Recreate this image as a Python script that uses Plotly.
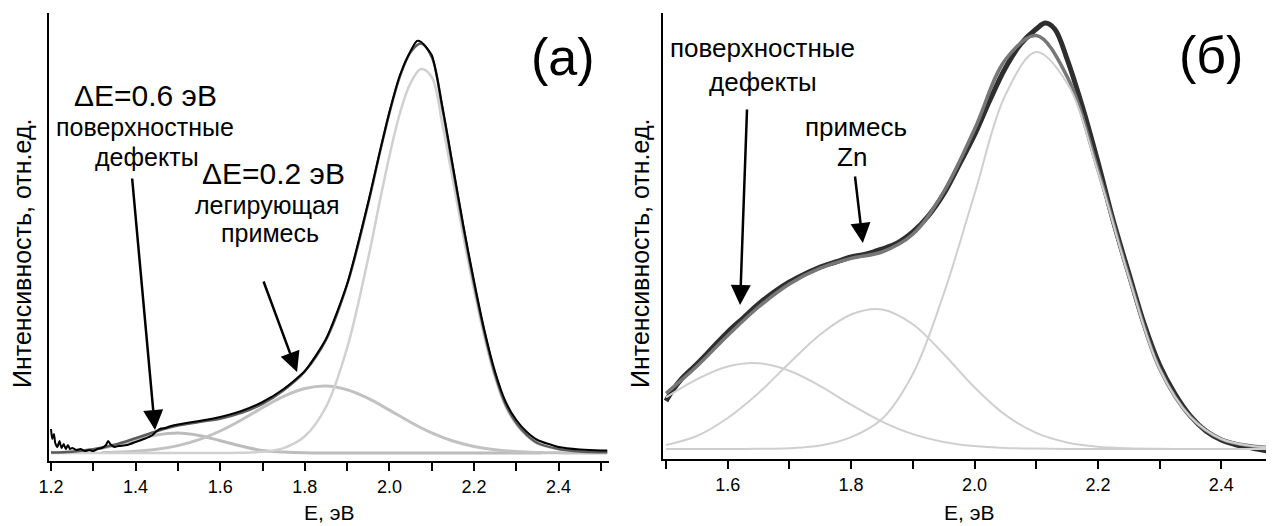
import plotly.graph_objects as go

# ---------------- panel (а) ----------------
E_a_noisy = [1.200, 1.203, 1.207, 1.210, 1.215, 1.220, 1.225, 1.230, 1.235, 1.240, 1.245, 1.250,
             1.260, 1.270, 1.280, 1.290, 1.300, 1.310, 1.320, 1.330, 1.335, 1.340, 1.350, 1.360,
             1.380, 1.400, 1.420, 1.440, 1.450, 1.460, 1.470, 1.480, 1.500, 1.520, 1.550, 1.600,
             1.650, 1.700, 1.750, 1.800, 1.850, 1.900, 1.950, 1.975, 2.000, 2.025, 2.050, 2.065,
             2.075, 2.100, 2.125, 2.150, 2.175, 2.200, 2.225, 2.250, 2.275, 2.300, 2.325, 2.350,
             2.400, 2.450, 2.500, 2.515]
data_a = [24, 14, 19, 10, 6, 12, 5, 9, 4, 8, 4, 5,
          3, 4, 2, 3, 2, 4, 5, 8, 12, 9, 6, 7,
          8, 11, 14, 18, 22, 24.5, 25, 26.5, 28.5, 30, 32, 36,
          42, 51, 64, 82, 114, 169, 251, 297, 341, 378, 402, 412,
          411, 398, 347, 287, 227, 172, 122, 81, 51, 33, 21, 13,
          6, 3.5, 2.5, 2.5]

E_a_fit = [1.20, 1.25, 1.30, 1.35, 1.40, 1.45, 1.50, 1.55, 1.60, 1.65, 1.70, 1.75, 1.80, 1.85,
           1.90, 1.95, 1.975, 2.00, 2.025, 2.05, 2.075, 2.10, 2.125, 2.15, 2.175, 2.20, 2.225,
           2.25, 2.275, 2.30, 2.325, 2.35, 2.40, 2.45, 2.50, 2.515]
fit_a = [0.4, 1.3, 3.7, 8.2, 14.7, 21.7, 27.4, 31, 34.3, 40.1, 49.1, 62.7, 81.5, 113,
         168.3, 249.6, 296, 339.9, 376.7, 400.8, 409.5, 396, 345, 285, 225, 169.5, 119.7,
         78.2, 48.2, 30, 18, 10, 4, 1.5, 0.8, 0.8]

E_a_c1 = [1.20, 1.25, 1.30, 1.35, 1.40, 1.45, 1.50, 1.55, 1.60, 1.65, 1.70, 1.75, 1.80, 1.85,
          1.90, 2.00, 2.10, 2.20, 2.30, 2.36]
c1_a = [0.4, 1.2, 3.4, 7.5, 13, 18, 20, 17.6, 12.3, 6.9, 2.5, 1.1, 0.3, 0,
        0, 0, 0, 0, 0, 0]

E_a_c2 = [1.32, 1.35, 1.40, 1.45, 1.50, 1.55, 1.60, 1.65, 1.70, 1.75, 1.80, 1.85, 1.90, 1.95,
          2.00, 2.05, 2.10, 2.15, 2.20, 2.25, 2.30, 2.35, 2.40, 2.45, 2.515]
c2_a = [0.4, 0.7, 1.7, 3.7, 7.4, 13.4, 22, 33, 45.4, 56.7, 64.5, 67, 63.3, 54.6,
        42.9, 30.8, 20.1, 12, 6.5, 3.2, 1.5, 0.6, 0.2, 0, 0]

E_a_c3 = [1.20, 1.40, 1.60, 1.65, 1.70, 1.75, 1.80, 1.85, 1.90, 1.95, 1.975, 2.00, 2.025, 2.05,
          2.075, 2.10, 2.125, 2.15, 2.175, 2.20, 2.225, 2.25, 2.275, 2.30, 2.325, 2.35, 2.40,
          2.45, 2.515]
c3_a = [0, 0, 0, 0.2, 1.2, 4.9, 16.7, 46, 105, 195, 247, 297, 340, 370,
        384, 376, 329, 273, 216, 163, 115, 75, 46, 28.5, 17, 9.4, 3.8,
        1.5, 0.8]

# ---------------- panel (б) ----------------
E_b_data = [1.500, 1.510, 1.525, 1.550, 1.575, 1.600, 1.625, 1.650, 1.675, 1.700, 1.725, 1.750,
            1.775, 1.800, 1.825, 1.850, 1.875, 1.900, 1.925, 1.950, 1.975, 2.000, 2.025, 2.050,
            2.075, 2.100, 2.115, 2.130, 2.150, 2.175, 2.200, 2.225, 2.250, 2.275, 2.300, 2.325,
            2.350, 2.375, 2.400, 2.425, 2.450, 2.475, 2.500]
data_b = [48, 58, 70, 85, 101, 117, 131, 145, 157, 167, 175, 182,
          187, 192, 195, 200, 206, 217, 233, 255, 284, 314, 349, 381,
          405, 420, 426, 420, 390, 342, 287, 228, 176, 125, 84, 55,
          33, 18, 9, 4, 1, -2, -3]

E_b = [1.50, 1.55, 1.60, 1.65, 1.70, 1.75, 1.80, 1.85, 1.90, 1.95, 2.00, 2.05, 2.10, 2.15,
       2.20, 2.25, 2.30, 2.35, 2.40, 2.45, 2.50]
fit_b = [55.7, 82.7, 113.5, 142, 165.1, 180.8, 190.6, 197, 214.7, 257.1, 319.7, 389.2, 413.5, 372.6,
         279.2, 172.7, 80.2, 32, 10, 3, 1]
c1_b = [51.7, 69.7, 82.5, 85.8, 78.3, 62.9, 44.3, 27.4, 14.9, 7.1, 3.0, 1.1, 0.4, 0.1,
        0, 0, 0, 0, 0, 0, 0]
c2_b = [4, 13, 31, 56, 86, 114.5, 134.5, 139.6, 124.8, 95, 61.7, 34.1, 16.1, 6.5,
        2.2, 0.7, 0.2, 0, 0, 0, 0]
c3_b = [0, 0, 0, 0.2, 0.8, 3.4, 11.8, 30, 75, 155, 255, 354, 397, 366,
        277, 172, 80, 32, 10, 3, 1]

tick_major_a = [1.2, 1.4, 1.6, 1.8, 2.0, 2.2, 2.4]
tick_minor_a = [1.3, 1.5, 1.7, 1.9, 2.1, 2.3, 2.5]
tick_major_b = [1.6, 1.8, 2.0, 2.2, 2.4]
tick_minor_b = [1.5, 1.7, 1.9, 2.1, 2.3]

FONT = "Liberation Sans, Arial, sans-serif"
PAGE_W, PAGE_H = 1274, 526
OFF = 8                      # page body margin of the html page
FW, FH = PAGE_W - OFF, PAGE_H - OFF

fig = go.Figure()

# panel (а) traces
for ex, ey, col, wd in [(E_a_c1, c1_a, "#bcbcbc", 3), (E_a_c2, c2_a, "#c2c2c2", 3),
                        (E_a_c3, c3_a, "#d0d0d0", 2.5)]:
    fig.add_trace(go.Scatter(x=ex, y=ey, mode="lines", line=dict(color=col, width=wd, shape="spline"),
                             xaxis="x", yaxis="y", hoverinfo="skip"))
fig.add_trace(go.Scatter(x=E_a_fit, y=fit_a, mode="lines", line=dict(color="#5c5c5c", width=2.5, shape="spline"),
                         xaxis="x", yaxis="y"))
fig.add_trace(go.Scatter(x=E_a_noisy, y=data_a, mode="lines", line=dict(color="#000000", width=2, shape="spline", smoothing=0.6),
                         xaxis="x", yaxis="y"))

# panel (б) traces
fig.add_trace(go.Scatter(x=E_b_data, y=data_b, mode="lines", line=dict(color="#2e2e2e", width=5, shape="spline"),
                         xaxis="x2", yaxis="y2"))
fig.add_trace(go.Scatter(x=E_b, y=fit_b, mode="lines", line=dict(color="#777777", width=3.5, shape="spline"),
                         xaxis="x2", yaxis="y2"))
for ey in [c1_b, c2_b, c3_b]:
    fig.add_trace(go.Scatter(x=E_b, y=ey, mode="lines", line=dict(color="#cfcfcf", width=2, shape="spline"),
                             xaxis="x2", yaxis="y2", hoverinfo="skip"))


def xaxis_cfg(domain, rng, major, minor, anchor):
    return dict(domain=domain, range=rng, anchor=anchor, showline=True, linecolor="black", linewidth=2,
                ticks="outside", ticklen=8, tickwidth=1.5, tickcolor="black",
                tickvals=major, ticktext=[f"{v:.1f}" for v in major],
                tickfont=dict(family=FONT, size=18, color="black"),
                minor=dict(tickvals=minor, ticks="outside", ticklen=8, tickwidth=1.5, tickcolor="black"),
                showgrid=False, zeroline=False, mirror=False, automargin=False)


def yaxis_cfg(domain, rng, anchor):
    return dict(domain=domain, range=rng, anchor=anchor, showline=True, linecolor="black", linewidth=2,
                ticks="", showticklabels=False, showgrid=False, zeroline=False, automargin=False)


def px(x, y):
    """page pixel -> paper fraction"""
    return (x - OFF) / FW, (FH - (y - OFF)) / FH


def xdom(x0, x1):
    return [px(x0, 0)[0], min(1.0, px(x1, 0)[0])]


def ydom(ybot, ytop):
    return [px(0, ybot)[1], px(0, ytop)[1]]


annotations = []


def text(t, x, y, size, angle=0):
    xp, yp = px(x, y)
    annotations.append(dict(text=t, x=xp, y=yp, xref="paper", yref="paper", showarrow=False,
                            xanchor="center", yanchor="middle", textangle=angle,
                            font=dict(family=FONT, size=size, color="black")))


text("ΔE=0.6 эВ", 145, 95, 30)
text("поверхностные", 145, 127, 25)
text("дефекты", 147, 157, 25)
text("ΔE=0.2 эВ", 273, 173, 30)
text("легирующая", 267, 205, 25)
text("примесь", 270, 233, 25)
text("(а)", 563, 57, 52)
text("поверхностные", 762, 48, 26)
text("дефекты", 763, 82, 26)
text("примесь", 856, 127, 26)
text("Zn", 852, 157, 26)
text("(б)", 1211, 55, 52)
text("E, эВ", 329, 512, 21)
text("E, эВ", 969, 512, 21)
text("Интенсивность, отн.ед.", 22, 254, 25, -90)
text("Интенсивность, отн.ед.", 640, 254, 25, -90)


def arrow(xr, yr, x, y, ax, ay):
    annotations.append(dict(text="", x=x, y=y, xref=xr, yref=yr, ax=ax, ay=ay, showarrow=True,
                            arrowhead=2, arrowsize=1.6, arrowwidth=2.5, arrowcolor="black", standoff=0))


arrow("x", "y", 1.4459, 23, -23, -253)
arrow("x", "y", 1.7816, 81, -34, -92)
arrow("x2", "y2", 1.620, 144, 7, -197)
arrow("x2", "y2", 1.819, 206, -8, -68)

fig.update_layout(
    template="none",
    width=FW, height=FH, margin=dict(l=0, r=0, t=0, b=0, pad=0, autoexpand=False),
    paper_bgcolor="white", plot_bgcolor="white", showlegend=False,
    xaxis=xaxis_cfg(xdom(49, 609), [1.1953, 2.5191], tick_major_a, tick_minor_a, "y"),
    yaxis=yaxis_cfg(ydom(461, 13), [-8, 440], "x"),
    xaxis2=xaxis_cfg(xdom(663, 1274), [1.4951, 2.4854], tick_major_b, tick_minor_b, "y2"),
    yaxis2=yaxis_cfg(ydom(459, 13), [-10, 436], "x2"),
    annotations=annotations,
)

fig.write_html("out.html")
